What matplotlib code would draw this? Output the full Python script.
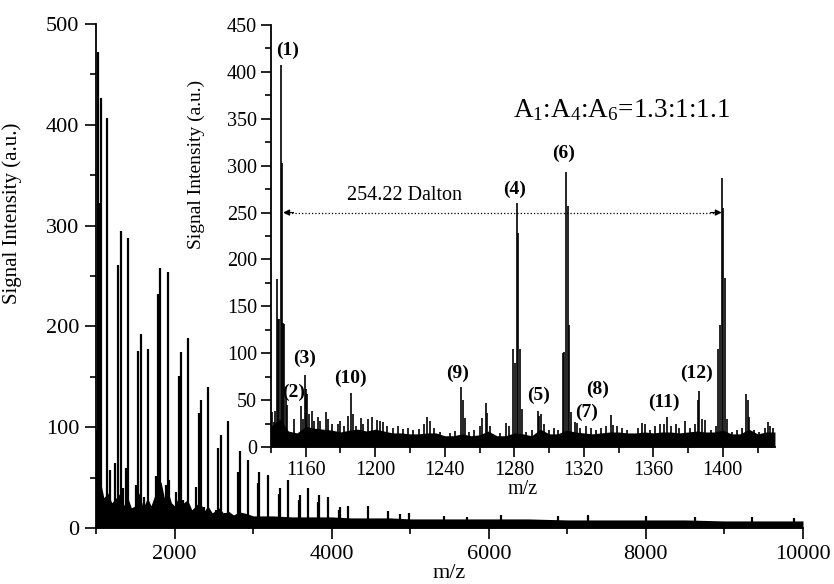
"""MALDI spectrum with zoomed inset (m/z 1140-1430)."""

import matplotlib
matplotlib.use("Agg")
import matplotlib.pyplot as plt
from matplotlib.ticker import MultipleLocator

plt.rcParams['font.family'] = ['Liberation Serif', 'DejaVu Serif']
plt.rcParams['mathtext.fontset'] = 'custom'
plt.rcParams['mathtext.rm'] = 'Liberation Serif'
plt.rcParams['mathtext.it'] = 'Liberation Serif:italic'

# ---- main spectrum: peaks ----------------------------------------------
main_peak_mz = [1005, 1012, 1027, 1044, 1061, 1146, 1179, 1248, 1286, 1312,
                1341, 1383, 1405, 1503, 1536, 1567, 1609, 1656, 1758, 1791,
                1821, 1885, 1911, 1927, 2020, 2055, 2080, 2106, 2165, 2271,
                2305, 2335, 2373, 2424, 2522, 2555, 2590, 2637, 2679, 2810,
                2835, 2930, 3060, 3077, 3184, 3325, 3341, 3439, 3580, 3596,
                3694, 3830, 3842, 3949, 4095, 4109, 4203, 4458, 4713, 4873,
                4988, 5430, 5720, 6160, 6880, 7260, 8005, 8620, 9350, 9880]
main_peak_int = [97, 90, 472, 322, 427, 407, 58, 64, 261, 295,
                 40, 60, 288, 43, 176, 192, 31, 178, 52, 232,
                 258, 43, 254, 48, 36, 151, 175, 28, 188, 41,
                 114, 127, 21, 140, 18, 79, 92, 15, 106, 56,
                 76, 67, 45, 56, 53, 34, 40, 48, 28, 33,
                 40, 26, 33, 31, 18, 21, 22, 22, 17, 14,
                 15, 12, 11, 13, 12, 13, 12, 11, 11, 10]

# noise floor of the main spectrum
main_base_mz = [1000, 1030, 1060, 1100, 1150, 1200, 1280, 1310, 1350, 1405,
                1450, 1500, 1550, 1600, 1656, 1700, 1760, 1800, 1830, 1870,
                1910, 1960, 2000, 2060, 2100, 2165, 2220, 2320, 2380, 2424,
                2480, 2570, 2630, 2680, 2750, 2830, 2930, 3000, 3250, 3500,
                3750, 4000, 4250, 4500, 4750, 5000, 5500, 6000, 6500, 7000,
                7500, 8000, 8500, 9000, 9500, 10000]
main_base_int = [70, 60, 45, 30, 35, 25, 32, 35, 22, 30,
                 20, 22, 35, 20, 30, 22, 35, 48, 45, 30,
                 38, 25, 22, 32, 24, 28, 18, 26, 17, 22,
                 15, 20, 14, 17, 13, 16, 14, 12, 12, 11,
                 11, 11, 10, 10, 10, 9, 9, 9, 9, 8,
                 8, 8, 8, 7, 7, 7]

# ---- inset spectrum ----------------------------------------------------
inset_peak_mz = [1140.6, 1141.5, 1142.3, 1143.3, 1144.0, 1144.8, 1145.6, 1146.3,
                 1147.0, 1147.6, 1148.6, 1149.3, 1153.0, 1157.3, 1158.5, 1159.6,
                 1160.2, 1160.9, 1162.0, 1163.4, 1165.0, 1167.2, 1168.5, 1171.7,
                 1173.0, 1175.0, 1178.7, 1180.0, 1182.0, 1184.5, 1186.2, 1187.4,
                 1189.0, 1191.6, 1193.0, 1196.0, 1198.0, 1200.8, 1202.5, 1204.3,
                 1207.0, 1210.0, 1213.0, 1216.0, 1219.0, 1222.0, 1225.0, 1228.0,
                 1229.6, 1231.5, 1234.0, 1237.0, 1243.0, 1246.0, 1249.4, 1250.3,
                 1251.7, 1254.0, 1257.0, 1260.0, 1261.6, 1263.5, 1264.1, 1266.0,
                 1272.0, 1275.3, 1277.0, 1279.5, 1280.4, 1281.4, 1282.3, 1283.3,
                 1284.6, 1287.0, 1290.0, 1293.5, 1294.3, 1295.2, 1297.0, 1300.0,
                 1303.0, 1305.0, 1307.9, 1308.8, 1309.8, 1310.8, 1311.7, 1312.5,
                 1315.0, 1315.9, 1318.0, 1321.0, 1324.0, 1327.0, 1330.0, 1333.0,
                 1335.5, 1336.6, 1339.0, 1342.0, 1345.0, 1351.0, 1353.3, 1355.0,
                 1358.0, 1361.0, 1364.0, 1366.0, 1367.7, 1370.0, 1373.0, 1375.0,
                 1378.3, 1381.0, 1384.0, 1385.6, 1386.5, 1388.0, 1390.0, 1393.0,
                 1396.0, 1397.4, 1398.2, 1399.4, 1400.1, 1401.2, 1402.3, 1405.0,
                 1408.0, 1411.0, 1413.4, 1414.4, 1415.3, 1418.0, 1421.0, 1424.0,
                 1426.2, 1427.0, 1429.0]
inset_peak_int = [37, 27, 38, 179, 137, 137, 407, 303,
                  132, 131, 52, 45, 30, 44, 30, 77,
                  62, 57, 35, 38, 28, 32, 28, 37,
                  30, 25, 24, 28, 22, 33, 58, 35,
                  22, 31, 25, 30, 32, 29, 28, 27,
                  22, 20, 22, 19, 20, 18, 19, 25,
                  32, 28, 20, 16, 15, 17, 64, 50,
                  31, 16, 18, 22, 31, 47, 36, 22,
                  15, 26, 22, 105, 90, 260, 228, 104,
                  40, 16, 18, 38, 33, 35, 24, 18,
                  20, 18, 100, 101, 293, 257, 130, 37,
                  27, 26, 20, 22, 20, 18, 20, 22,
                  34, 23, 22, 20, 18, 20, 26, 24,
                  18, 22, 25, 24, 32, 22, 24, 20,
                  28, 20, 25, 50, 60, 30, 29, 18,
                  22, 105, 130, 287, 255, 180, 30, 16,
                  18, 20, 57, 50, 32, 18, 16, 20,
                  27, 22, 20]

inset_base_mz = [1140, 1145, 1150, 1155, 1160, 1165, 1170, 1175, 1180, 1185,
                 1190, 1195, 1200, 1205, 1210, 1215, 1220, 1225, 1230, 1235,
                 1240, 1245, 1250, 1255, 1260, 1265, 1270, 1275, 1280, 1285,
                 1290, 1295, 1300, 1305, 1310, 1315, 1320, 1325, 1330, 1335,
                 1340, 1345, 1350, 1355, 1360, 1365, 1370, 1375, 1380, 1385,
                 1390, 1395, 1400, 1405, 1410, 1415, 1420, 1425, 1430]
inset_base_int = [22, 30, 17, 15, 22, 20, 19, 18, 16, 18,
                  19, 17, 19, 17, 15, 15, 14, 14, 15, 15,
                  12, 12, 14, 12, 13, 17, 12, 12, 15, 14,
                  12, 19, 14, 14, 18, 16, 15, 14, 15, 16,
                  16, 15, 15, 16, 15, 16, 16, 15, 16, 17,
                  16, 16, 18, 14, 14, 19, 14, 16, 16]

labels = ['(1)', '(2)', '(3)', '(4)', '(5)', '(6)',
          '(7)', '(8)', '(9)', '(10)', '(11)', '(12)']
label_mz = [1149.4, 1153.0, 1159.6, 1280.0, 1293.7, 1308.2,
            1321.7, 1327.8, 1247.6, 1185.5, 1365.8, 1384.6]
label_int = [423, 58, 95, 275, 55, 313, 37, 61, 79, 73, 48, 79]

fig = plt.figure(figsize=(8.34, 5.84), dpi=100)

# main panel
ax = fig.add_axes([0.1151, 0.0959, 0.8477, 0.863])
ax.fill_between(main_base_mz, 0, main_base_int, color='k', lw=0)
ax.vlines(main_peak_mz, 0, main_peak_int, color='k', lw=1.6)
ax.set_xlim(1000, 10000)
ax.set_ylim(0, 500)
ax.xaxis.set_major_locator(MultipleLocator(2000))
ax.xaxis.set_minor_locator(MultipleLocator(1000))
ax.yaxis.set_major_locator(MultipleLocator(100))
ax.yaxis.set_minor_locator(MultipleLocator(50))
for s in ['top', 'right']:
    ax.spines[s].set_visible(False)
for s in ['left', 'bottom']:
    ax.spines[s].set_linewidth(1.3)
ax.tick_params(which='major', direction='out', length=8, width=1.2,
               labelsize=16, pad=4)
ax.tick_params(which='minor', direction='out', length=4.5, width=1.2)
ax.set_xlabel('m/z', fontsize=16, labelpad=0)
ax.set_ylabel('Signal Intensity (a.u.)', fontsize=15)
ax.yaxis.set_label_coords(-0.105, 0.625)

# inset panel
ax_in = fig.add_axes([0.3249, 0.2346, 0.6043, 0.7226])
ax_in.fill_between(inset_base_mz, 0, inset_base_int, color='k', lw=0)
ax_in.vlines(inset_peak_mz, 0, inset_peak_int, color='k', lw=1.2)
ax_in.set_xlim(1140, 1430)
ax_in.set_ylim(0, 450)
ax_in.xaxis.set_minor_locator(MultipleLocator(20))
ax_in.set_xticks([1160, 1200, 1240, 1280, 1320, 1360, 1400])
ax_in.yaxis.set_major_locator(MultipleLocator(50))
ax_in.yaxis.set_minor_locator(MultipleLocator(25))
for s in ['top', 'right']:
    ax_in.spines[s].set_visible(False)
for s in ['left', 'bottom']:
    ax_in.spines[s].set_linewidth(1.3)
ax_in.tick_params(which='major', direction='out', length=7, width=1.2,
                  labelsize=14.5, pad=3)
ax_in.tick_params(which='minor', direction='out', length=4, width=1.2)
ax_in.set_xlabel('m/z', fontsize=14.5, labelpad=0)
ax_in.set_ylabel('Signal Intensity (a.u.)', fontsize=14)
ax_in.yaxis.set_label_coords(-0.131, 0.67)

for lab, x, y in zip(labels, label_mz, label_int):
    ax_in.text(x, y, lab, ha='center', va='center', fontsize=14,
               fontweight='bold')

# 254.22 Dalton spacing arrow
ax_in.plot([1148, 1398], [250, 250], color='k', ls=':', lw=0.9)
for tip, tail in [(1147, 1153), (1399.4, 1393)]:
    ax_in.annotate('', xy=(tip, 250), xytext=(tail, 250),
                   arrowprops=dict(arrowstyle='-|>', color='k', lw=0.9,
                                   mutation_scale=9, shrinkA=0, shrinkB=0))
ax_in.text(1216.8, 268, '254.22 Dalton', ha='center', va='center',
           fontsize=14.5)
ax_in.text(1279.3, 352, 'A$_1$:A$_4$:A$_6$=1.3:1:1.1', ha='left',
           va='baseline', fontsize=19.5)

fig.savefig('out.png', dpi=100)
